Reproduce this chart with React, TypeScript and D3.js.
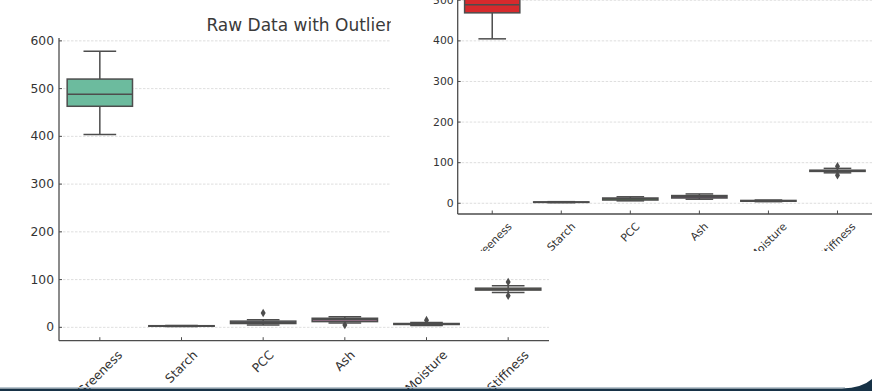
import React from 'react'
import * as d3 from 'd3'

const categories = ['Greeness', 'Starch', 'PCC', 'Ash', 'Moisture', 'Stiffness']
const yTicks = [0, 100, 200, 300, 400, 500, 600]

// raw data (left chart): whisker low, Q1, median, Q3, whisker high, outliers
const rawLow = [404, 1.5, 5, 9, 4, 73]
const rawQ1 = [463, 2.2, 8, 12, 6, 78]
const rawMed = [488, 2.8, 10, 16, 7, 80]
const rawQ3 = [520, 3.4, 13, 19, 8, 82]
const rawHigh = [578, 4, 16, 22, 10, 87]
const rawOutliers = [[], [], [30], [5], [15], [95, 66]]

// cleaned data (right chart)
const cleanLow = [405, 1.5, 6, 10, 4, 75]
const cleanQ1 = [469, 2.2, 8, 13, 5, 78.5]
const cleanMed = [489, 2.8, 11, 16, 6, 80]
const cleanQ3 = [521, 3.4, 13, 19, 7, 81.5]
const cleanHigh = [580, 4, 16, 23, 8, 86]
const cleanOutliers = [[], [], [], [], [], [91, 69]]

const set2 = ['#6cbb9e', '#f09272', '#94a2c6', '#d98fbd', '#a9cc66', '#efd24f']
const set1 = ['#d72a2d', '#4680b0', '#58a457', '#91579a', '#ef8a2a', '#efef5a']

const FONT = 'DejaVu Sans, Verdana, sans-serif'
const INK = '#333333'
const LINE = '#4d4d4d'

let ctx: CanvasRenderingContext2D | null = null
function textWidth(t: string, size: number) {
    if (!ctx) ctx = document.createElement('canvas').getContext('2d')
    if (!ctx) return t.length * size * 0.6
    ctx.font = `${size}px ${FONT}`
    return ctx.measureText(t).width
}

function BoxChart({ x0, x1, yTop, yBottom, domain, low, q1, med, q3, high, outliers, colors, fontSize, labelPad }) {
    const x = d3.scaleBand().domain(categories).range([x0, x1]).padding(0)
    const y = d3.scaleLinear().domain(domain).range([yBottom, yTop])
    const bw = x.bandwidth()
    const boxW = bw * 0.8
    const capW = boxW / 2
    const diamond = (cx: number, cy: number) =>
        `M${cx},${cy - 4.3}L${cx + 2.5},${cy}L${cx},${cy + 4.3}L${cx - 2.5},${cy}Z`
    const lh = fontSize * 1.17
    return (
        <g>
            {yTicks.map(t => (
                <g key={t}>
                    <line x1={x0} x2={x1} y1={y(t)} y2={y(t)} stroke="#d6d6d6" strokeWidth={0.8} strokeDasharray="2.5,1.5" />
                    <line x1={x0} x2={x0 + 3} y1={y(t)} y2={y(t)} stroke={LINE} strokeWidth={1} />
                    <text x={x0 - labelPad} y={y(t)} textAnchor="end" dominantBaseline="central" fontSize={fontSize} fontFamily={FONT} fill={INK}>{t}</text>
                </g>
            ))}
            {categories.map((c, i) => {
                const cx = (x(c) as number) + bw / 2
                return (
                    <g key={c}>
                        <line x1={cx} x2={cx} y1={y(high[i])} y2={y(q3[i])} stroke={LINE} strokeWidth={1.5} />
                        <line x1={cx} x2={cx} y1={y(q1[i])} y2={y(low[i])} stroke={LINE} strokeWidth={1.5} />
                        <line x1={cx - capW / 2} x2={cx + capW / 2} y1={y(high[i])} y2={y(high[i])} stroke={LINE} strokeWidth={1.5} />
                        <line x1={cx - capW / 2} x2={cx + capW / 2} y1={y(low[i])} y2={y(low[i])} stroke={LINE} strokeWidth={1.5} />
                        <rect x={cx - boxW / 2} width={boxW} y={y(q3[i])} height={Math.max(0.5, y(q1[i]) - y(q3[i]))}
                            fill={colors[i]} stroke={LINE} strokeWidth={1.5} />
                        <line x1={cx - boxW / 2} x2={cx + boxW / 2} y1={y(med[i])} y2={y(med[i])} stroke={LINE} strokeWidth={1.5} />
                        {outliers[i].map((o, j) => <path key={j} d={diamond(cx, y(o))} fill={LINE} />)}
                        <line x1={cx} x2={cx} y1={yBottom} y2={yBottom - 3.5} stroke={LINE} strokeWidth={1} />
                    </g>
                )
            })}
            <line x1={x0} x2={x0} y1={yTop} y2={yBottom} stroke={LINE} strokeWidth={1.3} />
            <line x1={x0} x2={x1} y1={yBottom} y2={yBottom} stroke={LINE} strokeWidth={1.3} />
            {categories.map(c => {
                const cx = (x(c) as number) + bw / 2
                const H = (textWidth(c, fontSize) + lh) * Math.SQRT1_2
                const cy = yBottom + fontSize * 0.58 + H / 2
                return (
                    <text key={c} transform={`translate(${cx},${cy}) rotate(-45)`} textAnchor="middle" dominantBaseline="central"
                        fontSize={fontSize} fontFamily={FONT} fill={INK}>{c}</text>
                )
            })}
        </g>
    )
}

export default function App() {
    const W = 872
    const H = 391
    return (
        <svg width={W} height={H} style={{ position: 'absolute', left: 0, top: 0, background: '#fff' }}>
            <defs>
                <clipPath id="panel"><rect x={391} y={0} width={481} height={251} /></clipPath>
            </defs>
            <rect width={W} height={H} fill="#fff" />
            <text x={304} y={31} textAnchor="middle" fontSize={17} fontFamily={FONT} fill="#3a3a3a">Raw Data with Outliers</text>
            <BoxChart x0={59} x1={549} yTop={38} yBottom={340.7} domain={[-28, 606]}
                low={rawLow} q1={rawQ1} med={rawMed} q3={rawQ3} high={rawHigh} outliers={rawOutliers}
                colors={set2} fontSize={12.3} labelPad={5} />
            <g clipPath="url(#panel)">
                <rect x={391} y={0} width={481} height={251} fill="#fff" />
                <BoxChart x0={457.7} x1={872} yTop={-44.4} yBottom={214} domain={[-26.4, 610]}
                    low={cleanLow} q1={cleanQ1} med={cleanMed} q3={cleanQ3} high={cleanHigh} outliers={cleanOutliers}
                    colors={set1} fontSize={10.8} labelPad={4} />
            </g>
            <line x1={0} x2={845} y1={387.5} y2={387.5} stroke="#b9c6cf" strokeWidth={1} />
            <path d="M0,388.5 L842,388.5 Q862,388 872,379 L872,391 L0,391 Z" fill="#173246" />
        </svg>
    )
}
